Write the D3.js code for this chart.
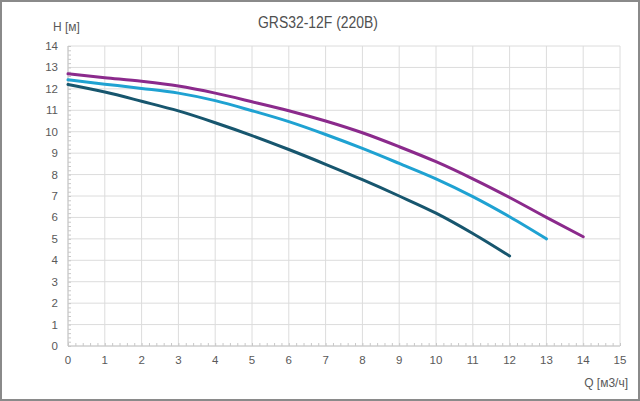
<!DOCTYPE html>
<html>
<head>
<meta charset="utf-8">
<script src="https://cdn.jsdelivr.net/npm/d3@7"></script>
<style>
  body { margin: 0; background: #fff; }
  text { font-family: "Liberation Sans", Arial, sans-serif; }
</style>
</head>
<body>
<div id="chart"></div>
<script>
// Q [m3/h] points and head H [m] for three speed curves
var qValues = [0, 1, 2, 3, 4, 5, 6, 7, 8, 9, 10, 11, 12, 13, 14];
var headHigh = [12.7, 12.52, 12.35, 12.13, 11.8, 11.4, 10.98, 10.5, 9.95, 9.3, 8.6, 7.8, 6.93, 6.0, 5.1];
var headMid  = [12.42, 12.22, 12.02, 11.8, 11.45, 10.98, 10.47, 9.87, 9.22, 8.52, 7.8, 6.97, 6.03, 5.0];
var headLow  = [12.2, 11.85, 11.42, 10.97, 10.42, 9.82, 9.17, 8.48, 7.76, 7.0, 6.2, 5.25, 4.2];
var xTicks = d3.range(0, 16);
var yTicks = d3.range(0, 15);

var W = 640, H = 401;
var m = {left: 68, right: 20, top: 46, bottom: 55};

var svg = d3.select("#chart").append("svg")
    .attr("width", W).attr("height", H);

// frame
svg.append("rect")
    .attr("x", 1).attr("y", 1)
    .attr("width", W - 2).attr("height", H - 2)
    .style("fill", "#fff").style("stroke", "#8a8a8a").style("stroke-width", 2);

var x = d3.scaleLinear().domain([0, 15]).range([m.left, W - m.right]);
var y = d3.scaleLinear().domain([0, 14]).range([H - m.bottom, m.top]);

// grid
svg.append("g").selectAll("line").data(xTicks).enter().append("line")
    .attr("x1", d => x(d)).attr("x2", d => x(d))
    .attr("y1", y(0)).attr("y2", y(14))
    .style("stroke", "#dcdcdc").style("stroke-width", 1);
svg.append("g").selectAll("line").data(yTicks).enter().append("line")
    .attr("x1", x(0)).attr("x2", x(15))
    .attr("y1", d => y(d)).attr("y2", d => y(d))
    .style("stroke", "#dcdcdc").style("stroke-width", 1);

// minor ticks
var xAxis = d3.axisBottom(x).tickValues(d3.range(0, 15.01, 0.2)).tickSize(3).tickFormat("");
svg.append("g").attr("transform", "translate(0," + (y(0) - 3) + ")").call(xAxis);
var yAxis = d3.axisRight(y).tickValues(d3.range(0, 14.01, 0.2)).tickSize(3).tickFormat("");
svg.append("g").attr("transform", "translate(" + x(0) + ",0)").call(yAxis);
svg.selectAll(".domain").remove();
svg.selectAll(".tick line").style("stroke", "#c8c8c8");
svg.append("line").attr("x1", x(0)).attr("x2", x(15)).attr("y1", y(0)).attr("y2", y(0))
    .style("stroke", "#c8c8c8");
svg.append("line").attr("x1", x(0)).attr("x2", x(0)).attr("y1", y(0)).attr("y2", y(14))
    .style("stroke", "#c8c8c8");

// tick labels
svg.append("g").selectAll("text").data(xTicks).enter().append("text")
    .attr("x", d => x(d)).attr("y", y(0) + 18)
    .attr("text-anchor", "middle")
    .style("font-size", "11.5px").style("fill", "#595959")
    .text(d => d);
svg.append("g").selectAll("text").data(yTicks).enter().append("text")
    .attr("x", x(0) - 10).attr("y", d => y(d) + 4)
    .attr("text-anchor", "end")
    .style("font-size", "11.5px").style("fill", "#595959")
    .text(d => d);

// curves
var line = d3.line().x(d => x(d[0])).y(d => y(d[1])).curve(d3.curveMonotoneX);
var series = [
  {h: headLow, color: "#17566e"},
  {h: headMid, color: "#1fa2d2"},
  {h: headHigh, color: "#8b2a8c"}
];
series.forEach(function(s) {
  svg.append("path")
    .datum(s.h.map((v, i) => [qValues[i], v]))
    .attr("d", line)
    .style("fill", "none")
    .style("stroke", s.color)
    .style("stroke-width", 3)
    .style("stroke-linecap", "round");
});

// titles
svg.append("text").text("GRS32-12F (220B)")
    .attr("x", 318).attr("y", 28)
    .attr("text-anchor", "middle")
    .attr("textLength", 120).attr("lengthAdjust", "spacingAndGlyphs")
    .style("font-size", "16px").style("fill", "#505050");
svg.append("text").text("H [м]")
    .attr("x", 53).attr("y", 31)
    .style("font-size", "12px").style("fill", "#595959");
svg.append("text").text("Q [м3/ч]")
    .attr("x", 628).attr("y", 387)
    .attr("text-anchor", "end")
    .style("font-size", "12px").style("fill", "#595959");
</script>
</body>
</html>
